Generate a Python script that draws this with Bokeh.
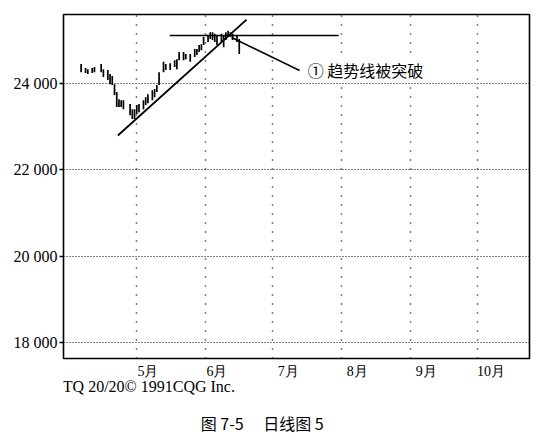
import pandas as pd
from bokeh.plotting import figure
from bokeh.layouts import column
from bokeh.models import FixedTicker, Label, Range1d
from bokeh.core.properties import value
from bokeh.embed import file_html
from bokeh.resources import INLINE

# ---- data ----
dates = [
    "1991-04-06", "1991-04-08", "1991-04-09", "1991-04-11", "1991-04-12",
    "1991-04-15", "1991-04-16", "1991-04-18", "1991-04-19", "1991-04-20",
    "1991-04-21", "1991-04-22", "1991-04-23", "1991-04-24", "1991-04-25",
    "1991-04-28", "1991-04-29", "1991-04-30", "1991-05-01", "1991-05-02",
    "1991-05-04", "1991-05-05", "1991-05-06", "1991-05-08", "1991-05-09",
    "1991-05-10", "1991-05-11", "1991-05-13", "1991-05-14", "1991-05-16",
    "1991-05-18", "1991-05-19", "1991-05-20", "1991-05-22", "1991-05-23",
    "1991-05-25", "1991-05-27", "1991-05-28", "1991-05-29", "1991-05-30",
    "1991-05-31", "1991-06-02", "1991-06-03", "1991-06-04", "1991-06-05",
    "1991-06-06", "1991-06-08", "1991-06-09", "1991-06-10", "1991-06-11",
    "1991-06-12", "1991-06-13", "1991-06-15", "1991-06-16",
]
highs = [
    24460, 24370, 24340, 24370, 24390, 24460, 24340, 24320, 24230, 24180,
    23990, 23810, 23640, 23620, 23620, 23530, 23410, 23410, 23510, 23530,
    23620, 23690, 23760, 23850, 23880, 23970, 24270, 24510, 24460, 24480,
    24550, 24570, 24740, 24740, 24690, 24690, 24810, 24810, 24900, 24920,
    25090, 25130, 25200, 25200, 25160, 25130, 25160, 25130, 25200, 25230,
    25200, 25160, 25130, 25040,
]
lows = [
    24270, 24250, 24230, 24250, 24270, 24270, 24160, 24090, 23990, 23970,
    23740, 23460, 23460, 23460, 23410, 23270, 23180, 23180, 23300, 23340,
    23410, 23510, 23550, 23620, 23690, 23810, 23970, 24270, 24320, 24320,
    24390, 24340, 24550, 24550, 24570, 24510, 24620, 24670, 24740, 24780,
    24900, 24970, 25040, 25020, 24970, 24900, 24970, 24850, 25020, 25090,
    25090, 25020, 24970, 24690,
]

month_starts = ["1991-05-01", "1991-06-01", "1991-07-01", "1991-08-01", "1991-09-01", "1991-10-01"]
month_label_dates = ["1991-05-06", "1991-06-06", "1991-07-08", "1991-08-08", "1991-09-08", "1991-10-07"]
month_labels = ["5月", "6月", "7月", "8月", "9月", "10月"]

y_ticks = [18000, 20000, 22000, 24000]
y_tick_labels = ["18 000", "20 000", "22 000", "24 000"]

# annotation lines (day of year, price)
trend_x = [112.5, 170.3]
trend_y = [22800, 25490]
resist_x = [135.8, 211.6]
resist_y = [25120, 25120]
pointer_x = [163.6, 194.1]
pointer_y = [25075, 24310]
note_x = 197.7
note_y = 24310
note_text = "① 趋势线被突破"

caption_text = "TQ 20/20© 1991CQG Inc."
figure_title = "图 7-5　 日线图 5"

# ---- build chart ----
x = list(pd.to_datetime(dates).dayofyear)
grid_days = [int(d) for d in pd.to_datetime(month_starts).dayofyear]
label_days = [int(d) for d in pd.to_datetime(month_label_dates).dayofyear]

p = figure(frame_width=466, frame_height=344, output_backend="svg", toolbar_location=None,
           x_range=Range1d(88.1, 297.3), y_range=Range1d(17620, 25610),
           x_axis_location=None,
           min_border_left=63, min_border_top=14, min_border_right=18, min_border_bottom=2)
p.background_fill_color = "white"
p.border_fill_color = "white"
p.outline_line_color = "black"
p.outline_line_width = 1.6

# y axis
p.yaxis.ticker = FixedTicker(ticks=y_ticks)
p.yaxis.major_label_overrides = {t: l for t, l in zip(y_ticks, y_tick_labels)}
p.yaxis.major_label_text_font = "Liberation Serif"
p.yaxis.major_label_text_font_size = "16px"
p.yaxis.major_label_text_color = "black"
p.yaxis.major_tick_in = 0
p.yaxis.major_tick_out = 4
p.yaxis.major_tick_line_width = 1.5
p.yaxis.major_tick_line_color = "black"
p.yaxis.minor_tick_line_color = None
p.yaxis.axis_line_color = None
p.yaxis.major_label_standoff = 2

# grids
p.xgrid.ticker = FixedTicker(ticks=grid_days)
p.xgrid.grid_line_color = "black"
p.xgrid.grid_line_dash = "1 8"
p.xgrid.grid_line_width = 1.5
p.ygrid.ticker = FixedTicker(ticks=y_ticks)
p.ygrid.grid_line_color = "black"
p.ygrid.grid_line_dash = "1 2"
p.ygrid.grid_line_width = 1

# bars
p.segment(x0=x, y0=lows, x1=x, y1=highs, line_color="black", line_width=1.7)

# annotation lines
p.line(trend_x, trend_y, line_color="black", line_width=1.8)
p.line(resist_x, resist_y, line_color="black", line_width=1.5)
p.line(pointer_x, pointer_y, line_color="black", line_width=1.5)

p.add_layout(Label(x=note_x, y=note_y, text=note_text, text_align="left",
                   text_baseline="middle", text_font="Noto Sans CJK SC",
                   text_font_size="16px", text_color="black",
                   background_fill_color="white", background_fill_alpha=1.0))

# ---- strip below the chart: month labels, caption, figure title ----
# shares the chart's x range; y is pixels down from the strip top
strip_h = 86
s = figure(frame_width=466, frame_height=strip_h, output_backend="svg", toolbar_location=None,
           x_range=p.x_range, y_range=Range1d(strip_h, 0),
           x_axis_location=None, y_axis_location=None,
           min_border_left=63, min_border_right=18, min_border_top=0, min_border_bottom=0)
s.outline_line_color = None
s.xgrid.visible = False
s.ygrid.visible = False
s.background_fill_color = "white"
s.border_fill_color = "white"

s.text(x=label_days, y=[11] * len(label_days), text=month_labels, text_align="center",
       text_baseline="middle", text_font=value("Liberation Serif"), text_font_size="14px",
       text_color="black")
caption_day = 87.8
title_day = 149.7
s.text(x=[caption_day], y=[26], text=[caption_text], text_align="left", text_baseline="middle",
       text_font=value("Liberation Serif"), text_font_size="16px", text_color="black")
s.text(x=[title_day], y=[62], text=[figure_title], text_align="left", text_baseline="middle",
       text_font=value("Noto Sans CJK SC"), text_font_size="16px", text_color="black")

layout = column(p, s, spacing=0)
open("out.html", "w").write(file_html(layout, INLINE))
